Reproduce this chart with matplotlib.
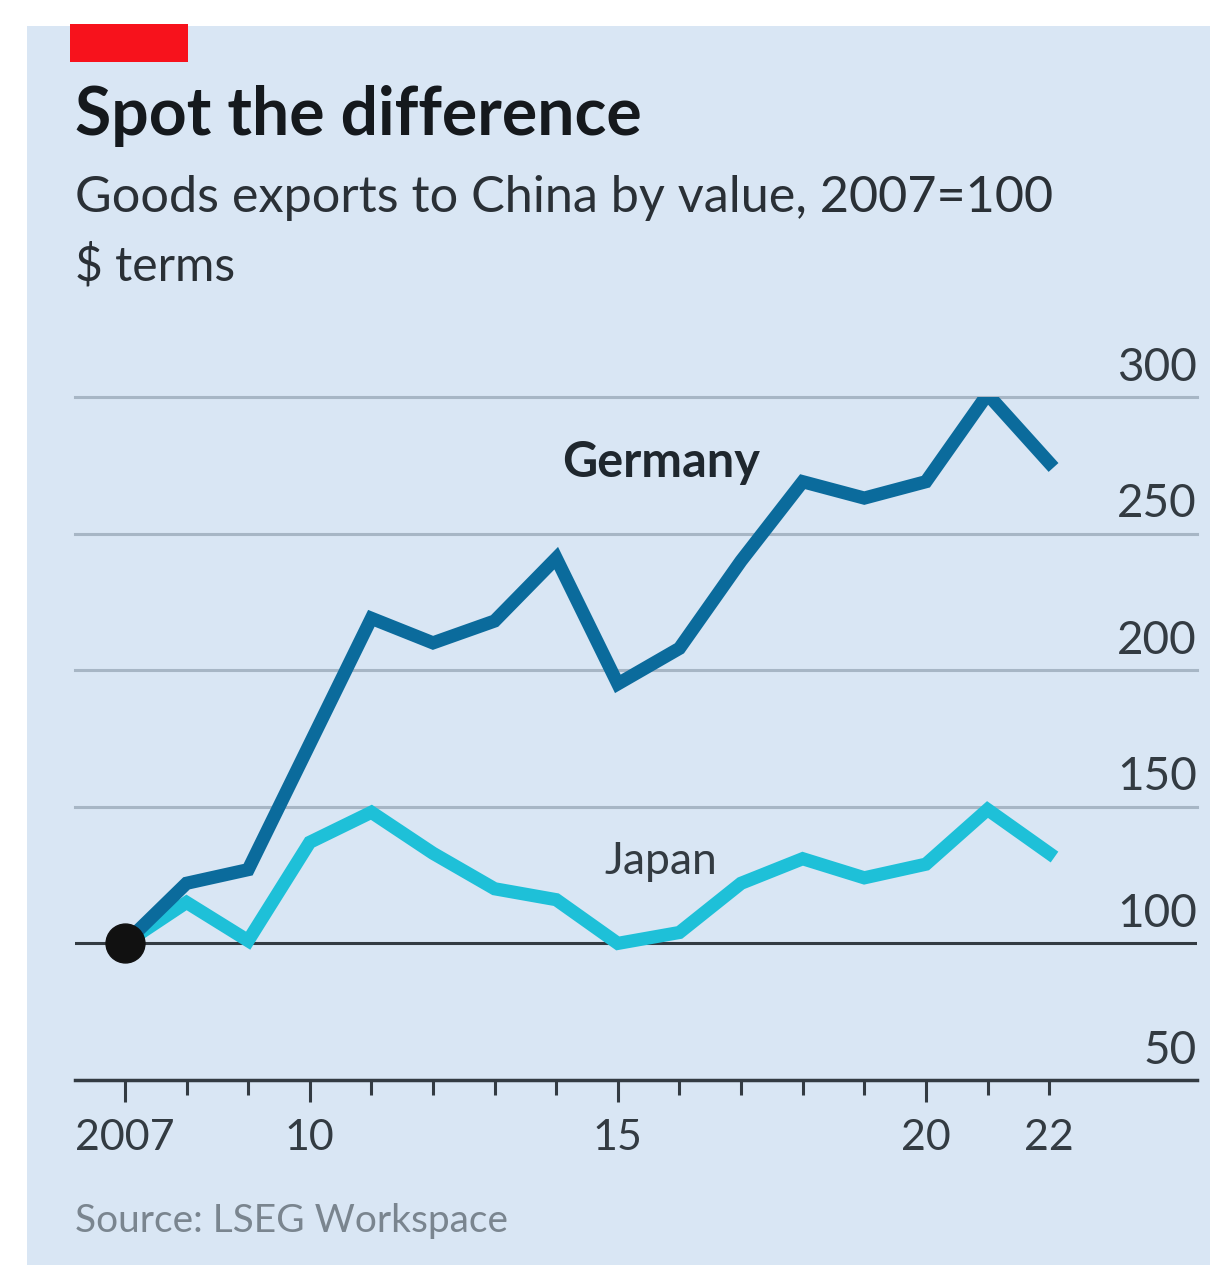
import numpy as np
import matplotlib.pyplot as plt
from matplotlib.patches import Rectangle
from matplotlib.ticker import FixedLocator, FixedFormatter
import matplotlib.transforms as mtransforms

plt.rcParams['font.family'] = ['Lato', 'DejaVu Sans']

# Goods exports to China, 2007=100
years = np.arange(2007, 2023)
germany = [100, 122, 127, 173, 219, 210, 218, 241, 195, 208, 240, 269, 263, 269, 301, 276]
japan = [100, 115, 101, 137, 148, 133, 120, 116, 100, 104, 122, 131, 124, 129, 149, 133]

yticks = [50, 100, 150, 200, 250, 300]
major_years = [2007, 2010, 2015, 2020]
major_labels = ['2007', '10', '15', '20']
minor_years = [2008, 2009, 2011, 2012, 2013, 2014, 2016, 2017, 2018, 2019, 2021, 2022]
minor_labels = ['', '', '', '', '', '', '', '', '', '', '', '22']

BG = '#d9e6f4'
GER = '#0b6b9c'
JAP = '#1ec0d8'
GRID = '#a7b6c5'
DARK = '#333b42'

fig = plt.figure(figsize=(12.1, 12.65), dpi=100)
fig.patch.set_facecolor('white')
# light blue panel behind everything, red tag on top
fig.patches.append(Rectangle((27/1210, 0), 1, 1 - 26/1265, transform=fig.transFigure,
                             facecolor=BG, edgecolor='none', zorder=-5))
fig.patches.append(Rectangle((70/1210, 1 - 62/1265), 118/1210, 38/1265, transform=fig.transFigure,
                             facecolor='#f7121c', edgecolor='none', zorder=1))

ax = fig.add_axes([75/1210, 185/1265, 1122/1210, 683/1265])
ax.set_facecolor('none')
ax.set_xlim(2006.19, 2024.4)
ax.set_ylim(50, 300)

for v in [150, 200, 250, 300]:
    ax.axhline(v, color=GRID, lw=2.2, zorder=1, clip_on=False)
ax.axhline(100, color=DARK, lw=2.2, zorder=2)

ax.plot(years, japan, color=JAP, lw=9.5, solid_joinstyle='miter', zorder=3)
ax.plot(years, germany, color=GER, lw=9.5, solid_joinstyle='miter', zorder=4)
ax.plot([2007], [100], 'o', color='#111111', ms=28, zorder=5)

for s in ['top', 'right', 'left']:
    ax.spines[s].set_visible(False)
ax.spines['bottom'].set_color(DARK)
ax.spines['bottom'].set_linewidth(2.5)

ax.xaxis.set_major_locator(FixedLocator(major_years))
ax.xaxis.set_major_formatter(FixedFormatter(major_labels))
ax.xaxis.set_minor_locator(FixedLocator(minor_years))
ax.xaxis.set_minor_formatter(FixedFormatter(minor_labels))
ax.tick_params(axis='x', which='major', length=16, width=2.2, color=DARK,
               labelsize=31, labelcolor=DARK, pad=12)
ax.tick_params(axis='x', which='minor', length=11, width=2.2, color=DARK,
               labelsize=31, labelcolor=DARK, pad=17)
ax.set_yticks([])

# y labels sit above their gridlines on the right
trans = mtransforms.blended_transform_factory(ax.transAxes, ax.transData)
offset = mtransforms.offset_copy(trans, fig=fig, x=0, y=6, units='points')
for v in yticks:
    ax.text(1.0, v, str(v), transform=offset, ha='right', va='bottom',
            fontsize=33, color=DARK)

ax.text(2015.7, 276, 'Germany', ha='center', va='center', fontsize=35,
        fontweight='bold', color='#1f272e')
ax.text(2015.7, 130, 'Japan', ha='center', va='center', fontsize=32, color=DARK)

fig.text(75/1210, 1 - 135/1265, 'Spot the difference', fontsize=47.5, fontweight='bold',
         color='#15191d', va='baseline')
fig.text(75/1210, 1 - 212/1265, 'Goods exports to China by value, 2007=100', fontsize=36.3,
         color='#2a3036', va='baseline')
fig.text(75/1210, 1 - 280/1265, '$ terms', fontsize=34.5, color='#2a3036', va='baseline')
fig.text(75/1210, 1 - 1232/1265, 'Source: LSEG Workspace', fontsize=28, color='#7a858f',
         va='baseline')

fig.savefig('out.png', dpi=100, facecolor='white')
